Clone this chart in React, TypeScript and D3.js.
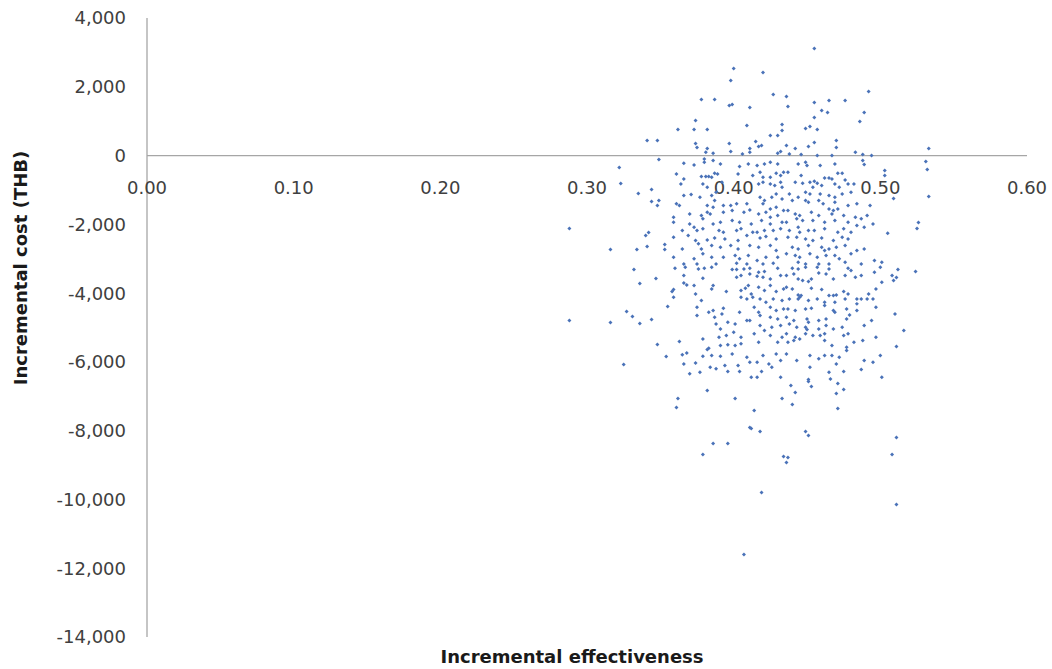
import * as d3 from "d3";

const xTicks = [0, 0.1, 0.2, 0.3, 0.4, 0.5, 0.6];
const yTicks = [4000, 2000, 0, -2000, -4000, -6000, -8000, -10000, -12000, -14000];

// [incremental effectiveness, incremental cost (THB)]
const aboveZero: [number, number][] = [
  [0.400, 2530], [0.420, 2414], [0.398, 2181], [0.378, 1628], [0.387, 1628], [0.397, 1454], [0.399, 1483],
  [0.411, 1396], [0.427, 1774], [0.436, 1716], [0.437, 1425], [0.374, 1018], [0.362, 756], [0.373, 756],
  [0.382, 756], [0.409, 872], [0.433, 901], [0.433, 727], [0.425, 582], [0.430, 582], [0.341, 436],
  [0.348, 436], [0.374, 349], [0.375, 233], [0.397, 349], [0.415, 407], [0.436, 291], [0.442, 204],
  [0.411, 204], [0.417, 262], [0.419, 291], [0.382, 204], [0.455, 3111], [0.455, 1541], [0.465, 1599],
  [0.476, 1599], [0.492, 1861], [0.460, 1309], [0.464, 1250], [0.489, 1250], [0.455, 1105], [0.486, 989],
  [0.449, 785], [0.452, 843], [0.457, 756], [0.451, 262], [0.455, 378], [0.470, 436], [0.470, 233],
  [0.533, 204],
];

const westTail: [number, number][] = [
  [0.349, -116], [0.322, -349], [0.323, -814], [0.335, -1105], [0.344, -989], [0.344, -1338], [0.348, -1454],
  [0.349, -1309], [0.288, -2123], [0.316, -2734], [0.334, -2734], [0.341, -2646], [0.342, -2239],
  [0.340, -2326], [0.332, -3315], [0.336, -3722], [0.347, -3577], [0.288, -4798], [0.316, -4856],
  [0.327, -4536], [0.331, -4682], [0.336, -4885], [0.344, -4769], [0.348, -5496], [0.353, -2588],
  [0.353, -2734], [0.355, -4391], [0.325, -6078], [0.354, -5845],
];

const eastTail: [number, number][] = [
  [0.531, -174], [0.532, -407], [0.533, -1192], [0.526, -1948], [0.525, -2123], [0.524, -3373],
  [0.516, -5089], [0.509, -1250], [0.512, -3315], [0.511, -3548], [0.511, -5554],
];

const southTail: [number, number][] = [
  [0.511, -8200], [0.508, -8695], [0.511, -10149], [0.471, -7357], [0.449, -8026], [0.451, -8142],
  [0.451, -6572], [0.453, -6718], [0.471, -6631], [0.470, -6921], [0.475, -6805], [0.439, -6689],
  [0.442, -6892], [0.433, -7066], [0.440, -7241], [0.362, -7066], [0.361, -7328], [0.382, -6834],
  [0.401, -7066], [0.414, -7415], [0.411, -7910], [0.412, -7939], [0.418, -8026], [0.386, -8375],
  [0.396, -8375], [0.379, -8695], [0.434, -8753], [0.437, -8782], [0.436, -8928], [0.419, -9800],
  [0.407, -11603],
];

const coreUpperLeft: [number, number][] = [
  [0.381, 97], [0.386, 67], [0.398, 116], [0.406, 48], [0.411, 97], [0.430, 67], [0.432, 116],
  [0.366, -223], [0.373, -272], [0.380, -194], [0.380, -97], [0.386, -146], [0.391, -243], [0.404, -320],
  [0.410, -243], [0.416, -291], [0.421, -243], [0.425, -194], [0.430, -243], [0.361, -533], [0.366, -679],
  [0.378, -611], [0.381, -611], [0.383, -611], [0.385, -630], [0.387, -514], [0.389, -533], [0.403, -533],
  [0.413, -582], [0.418, -485], [0.420, -630], [0.425, -630], [0.429, -514], [0.432, -582], [0.434, -485],
  [0.364, -824], [0.379, -824], [0.382, -921], [0.392, -776], [0.417, -824], [0.420, -776], [0.425, -824],
  [0.428, -872], [0.432, -776], [0.433, -921], [0.366, -1163], [0.371, -1134], [0.377, -1212],
  [0.385, -1163], [0.387, -1309], [0.388, -1066], [0.418, -1212], [0.421, -1309], [0.426, -1212],
  [0.429, -1115], [0.433, -1260], [0.363, -1454], [0.361, -1405], [0.382, -1454], [0.386, -1502],
  [0.393, -1454], [0.398, -1454], [0.402, -1405], [0.409, -1405], [0.420, -1405], [0.425, -1551],
  [0.429, -1502], [0.434, -1599], [0.359, -1793], [0.370, -1696], [0.378, -1745], [0.382, -1648],
  [0.384, -1696], [0.393, -1648], [0.399, -1599], [0.407, -1648], [0.411, -1580], [0.417, -1696],
  [0.422, -1648], [0.425, -1793], [0.430, -1745], [0.359, -1938], [0.370, -1987], [0.379, -1841],
  [0.386, -1987], [0.391, -1938], [0.399, -1890], [0.404, -1938], [0.412, -1987], [0.419, -1890],
  [0.425, -1987], [0.433, -1938], [0.365, -2181], [0.373, -2084], [0.375, -2181], [0.379, -2132],
  [0.390, -2181], [0.393, -2229], [0.402, -2181], [0.405, -2132], [0.413, -2229], [0.416, -2229],
  [0.421, -2181], [0.427, -2181], [0.432, -2132], [0.359, -2374], [0.369, -2326], [0.374, -2471],
  [0.382, -2452], [0.387, -2394], [0.394, -2423], [0.403, -2471], [0.409, -2326], [0.418, -2394],
  [0.422, -2355], [0.429, -2423], [0.365, -2714], [0.376, -2568], [0.378, -2714], [0.385, -2617],
  [0.391, -2665], [0.398, -2617], [0.403, -2714], [0.411, -2617], [0.417, -2665], [0.425, -2617],
  [0.429, -2762], [0.359, -2956], [0.373, -3004], [0.379, -2859], [0.385, -2956], [0.393, -2956],
  [0.401, -2907], [0.404, -3004], [0.410, -2907], [0.416, -3053], [0.422, -2956], [0.430, -2956],
  [0.366, -3150], [0.375, -3150], [0.388, -3150], [0.402, -3130], [0.409, -3150], [0.420, -3150],
  [0.427, -3130],
];

const coreUpperRight: [number, number][] = [
  [0.438, 48], [0.446, 29], [0.457, 0], [0.467, 0], [0.483, 97], [0.488, 29], [0.494, 0], [0.444, -243],
  [0.449, -194], [0.450, -291], [0.459, -291], [0.469, -243], [0.488, -146], [0.489, -262], [0.437, -485],
  [0.446, -582], [0.452, -776], [0.455, -746], [0.457, -805], [0.462, -650], [0.465, -650], [0.467, -679],
  [0.471, -514], [0.474, -514], [0.476, -708], [0.503, -436], [0.503, -582], [0.442, -776], [0.447, -805],
  [0.454, -921], [0.460, -872], [0.469, -824], [0.472, -921], [0.478, -824], [0.482, -824], [0.438, -1115],
  [0.444, -1212], [0.449, -1066], [0.452, -1115], [0.459, -1115], [0.465, -1163], [0.469, -1212],
  [0.474, -1115], [0.480, -1066], [0.440, -1309], [0.449, -1309], [0.451, -1357], [0.458, -1309],
  [0.461, -1405], [0.469, -1357], [0.471, -1551], [0.468, -1599], [0.478, -1454], [0.484, -1405],
  [0.493, -1454], [0.437, -1599], [0.442, -1696], [0.445, -1745], [0.453, -1648], [0.458, -1745],
  [0.465, -1551], [0.467, -1696], [0.475, -1745], [0.491, -1745], [0.487, -1841], [0.483, -1793],
  [0.436, -1938], [0.443, -1841], [0.447, -1890], [0.454, -1890], [0.462, -1938], [0.469, -1890],
  [0.478, -1938], [0.484, -2035], [0.489, -2084], [0.495, -1987], [0.438, -2181], [0.444, -2084],
  [0.445, -2229], [0.451, -2181], [0.455, -2181], [0.462, -2132], [0.471, -2229], [0.475, -2132],
  [0.480, -2229], [0.505, -2258], [0.437, -2374], [0.443, -2374], [0.449, -2423], [0.454, -2471],
  [0.460, -2394], [0.468, -2471], [0.474, -2374], [0.478, -2423], [0.440, -2665], [0.444, -2714],
  [0.451, -2617], [0.460, -2665], [0.462, -2762], [0.465, -2714], [0.470, -2665], [0.476, -2617],
  [0.484, -2762], [0.489, -2714], [0.436, -2859], [0.442, -2907], [0.445, -2956], [0.452, -2859],
  [0.457, -2956], [0.463, -2907], [0.469, -2907], [0.472, -3004], [0.480, -2859], [0.496, -3053],
  [0.444, -3101], [0.449, -3150], [0.458, -3150], [0.465, -3150], [0.476, -3101], [0.487, -3150],
  [0.501, -3101],
];

const coreLowerLeft: [number, number][] = [
  [0.360, -3277], [0.367, -3247], [0.376, -3296], [0.380, -3277], [0.385, -3247], [0.399, -3315],
  [0.402, -3315], [0.407, -3296], [0.411, -3277], [0.417, -3393], [0.421, -3373], [0.430, -3277],
  [0.366, -3490], [0.379, -3567], [0.402, -3538], [0.405, -3490], [0.411, -3441], [0.416, -3509],
  [0.420, -3538], [0.425, -3587], [0.432, -3490], [0.358, -3955], [0.359, -3897], [0.366, -3703],
  [0.368, -3761], [0.373, -3780], [0.385, -3877], [0.386, -3780], [0.395, -3955], [0.405, -3926],
  [0.408, -3858], [0.410, -3780], [0.412, -4023], [0.417, -3829], [0.421, -3926], [0.425, -3780],
  [0.429, -3955], [0.434, -3877], [0.359, -4120], [0.374, -4023], [0.378, -4216], [0.405, -4120],
  [0.409, -4168], [0.413, -4120], [0.418, -4168], [0.422, -4265], [0.427, -4168], [0.433, -4216],
  [0.375, -4410], [0.383, -4556], [0.386, -4507], [0.393, -4439], [0.404, -4556], [0.414, -4410],
  [0.417, -4556], [0.425, -4410], [0.429, -4507], [0.434, -4459], [0.375, -4653], [0.387, -4701],
  [0.392, -4604], [0.409, -4798], [0.411, -4798], [0.418, -4653], [0.425, -4701], [0.430, -4750],
  [0.388, -4895], [0.396, -4846], [0.401, -4895], [0.391, -5040], [0.418, -4943], [0.421, -5089],
  [0.426, -4992], [0.432, -4943], [0.379, -5331], [0.390, -5282], [0.395, -5234], [0.400, -5137],
  [0.405, -5282], [0.414, -5185], [0.425, -5234], [0.433, -5282], [0.363, -5408], [0.383, -5602],
  [0.382, -5641], [0.391, -5525], [0.396, -5505], [0.401, -5525], [0.405, -5476], [0.417, -5428],
  [0.430, -5428], [0.365, -5796], [0.368, -5738], [0.379, -5835], [0.385, -5815], [0.391, -5835],
  [0.399, -5767], [0.409, -5864], [0.420, -5815], [0.429, -5767], [0.432, -5961], [0.366, -6058],
  [0.374, -6029], [0.384, -6155], [0.394, -6106], [0.403, -6106], [0.411, -6009], [0.416, -6009],
  [0.424, -6058], [0.377, -6300], [0.370, -6348], [0.388, -6203], [0.396, -6280], [0.404, -6280],
  [0.419, -6280], [0.426, -6155], [0.412, -6445], [0.416, -6445], [0.432, -6445],
];

const coreLowerRight: [number, number][] = [
  [0.440, -3277], [0.444, -3296], [0.449, -3247], [0.457, -3247], [0.465, -3296], [0.478, -3277],
  [0.480, -3344], [0.496, -3393], [0.500, -3247], [0.508, -3490], [0.509, -3635], [0.436, -3490],
  [0.441, -3441], [0.444, -3587], [0.447, -3635], [0.451, -3664], [0.453, -3587], [0.458, -3412],
  [0.463, -3441], [0.468, -3587], [0.476, -3490], [0.483, -3538], [0.487, -3490], [0.501, -3684],
  [0.436, -3829], [0.440, -3877], [0.444, -4052], [0.445, -4120], [0.446, -4071], [0.453, -3858],
  [0.460, -3897], [0.465, -4071], [0.468, -4071], [0.470, -4052], [0.475, -3955], [0.478, -4023],
  [0.484, -4168], [0.487, -4168], [0.492, -4023], [0.495, -4168], [0.497, -3877], [0.438, -4168],
  [0.444, -4168], [0.451, -4216], [0.457, -4168], [0.462, -4265], [0.469, -4265], [0.476, -4168],
  [0.484, -4313], [0.491, -4168], [0.437, -4459], [0.442, -4507], [0.449, -4459], [0.453, -4439],
  [0.462, -4362], [0.468, -4507], [0.469, -4556], [0.477, -4459], [0.484, -4507], [0.497, -4410],
  [0.436, -4701], [0.441, -4798], [0.450, -4750], [0.451, -4846], [0.458, -4798], [0.463, -4750],
  [0.477, -4750], [0.479, -4633], [0.494, -4798], [0.510, -4604], [0.438, -4895], [0.443, -4992],
  [0.449, -4992], [0.450, -5060], [0.458, -5040], [0.463, -4943], [0.468, -5040], [0.474, -4992],
  [0.489, -4943], [0.436, -5185], [0.442, -5282], [0.445, -5331], [0.449, -5185], [0.454, -5234],
  [0.459, -5234], [0.462, -5185], [0.475, -5234], [0.478, -5185], [0.497, -5282], [0.437, -5428],
  [0.441, -5379], [0.462, -5379], [0.467, -5525], [0.477, -5573], [0.477, -5670], [0.482, -5428],
  [0.488, -5379], [0.436, -5767], [0.443, -5961], [0.452, -5815], [0.458, -5912], [0.462, -5815],
  [0.467, -5815], [0.472, -5864], [0.489, -5961], [0.495, -6009], [0.500, -5815], [0.452, -6155],
  [0.465, -6300], [0.470, -6058], [0.475, -6280], [0.487, -6222], [0.501, -6445], [0.466, -6494],
  [0.451, -6513],
];

const allPoints = [
  ...aboveZero, ...westTail, ...eastTail, ...southTail,
  ...coreUpperLeft, ...coreUpperRight, ...coreLowerLeft, ...coreLowerRight,
];

const width = 1052;
const height = 669;
const margin = { top: 18, right: 25, bottom: 32, left: 147 };

export default function App() {
  const x = d3.scaleLinear().domain([0, 0.6]).range([margin.left, width - margin.right]);
  const y = d3.scaleLinear().domain([-14000, 4000]).range([height - margin.bottom, margin.top]);
  const fmtX = d3.format(".2f");
  // Excel-style: plain hyphen for negatives
  const fmtY = (v: number) => d3.format(",")(v).replace("\u2212", "-");
  const marker = d3.symbol().type(d3.symbolSquare).size(8)() ?? "";
  const font = "'DejaVu Sans', sans-serif";

  return (
    <svg
      width={width}
      height={height}
      style={{ position: "absolute", left: 0, top: 0, background: "#fff" }}
      fontFamily={font}
    >
      {/* axes */}
      <line x1={x(0)} x2={x(0)} y1={y(4000)} y2={y(-14000)} stroke="#a6a6a6" strokeWidth={1.3} />
      <line x1={x(0)} x2={x(0.6)} y1={y(0)} y2={y(0)} stroke="#a6a6a6" strokeWidth={1.3} />

      {yTicks.map((t) => (
        <text key={t} x={x(0) - 21} y={y(t)} dy="0.36em" textAnchor="end" fontSize={18} fill="#404040">
          {fmtY(t)}
        </text>
      ))}
      {xTicks.map((t) => (
        <text key={t} x={x(t)} y={y(0) + 38} textAnchor="middle" fontSize={18} fill="#404040">
          {fmtX(t)}
        </text>
      ))}

      {allPoints.map((d, i) => (
        <path
          key={i}
          d={marker}
          transform={`translate(${x(d[0])},${y(d[1])}) rotate(45)`}
          fill="#4a72b8"
        />
      ))}

      <text
        transform={`translate(27,268) rotate(-90)`}
        textAnchor="middle"
        fontSize={18}
        fontWeight="bold"
        fill="#1a1a1a"
      >
        Incremental cost (THB)
      </text>
      <text x={572} y={663} textAnchor="middle" fontSize={18} fontWeight="bold" fill="#1a1a1a">
        Incremental effectiveness
      </text>
    </svg>
  );
}
